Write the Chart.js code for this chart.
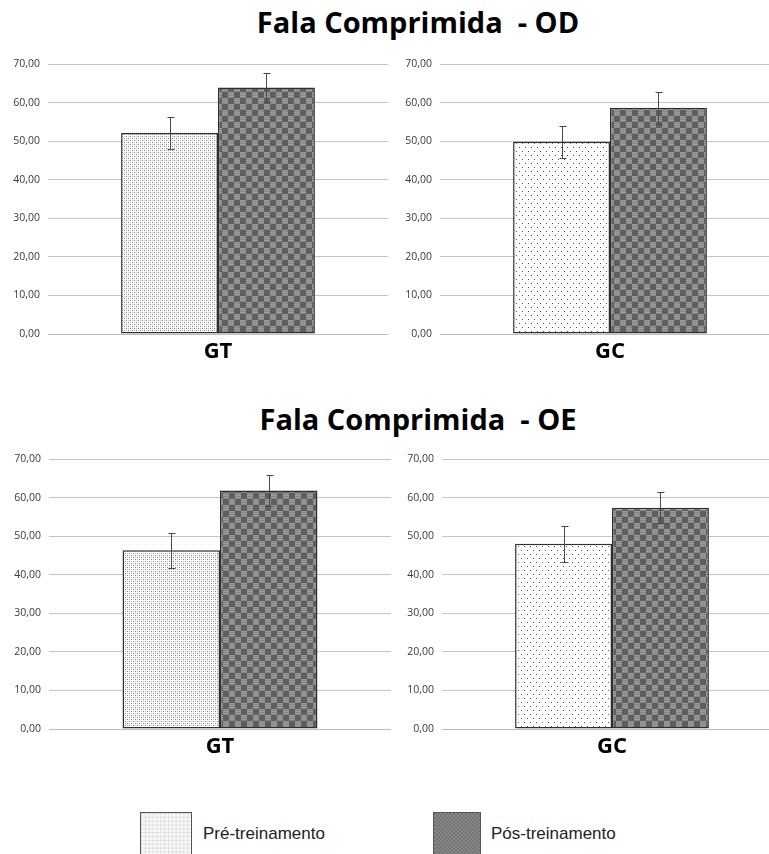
<!DOCTYPE html>
<html lang="pt">
<head>
<meta charset="utf-8">
<script src="https://cdn.jsdelivr.net/npm/chart.js@4.4.1/dist/chart.umd.min.js"></script>
<style>
  body { margin: 0; width: 769px; height: 854px; overflow: hidden; background: #fff; position: relative; }
  canvas { position: absolute; }
  .titulo { position: absolute; left: 168px; width: 500px; text-align: center; white-space: pre;
            font: bold 29px/29px 'Open Sans'; color: #000; }
  .leg-caixa { position: absolute; top: 812px; height: 50px; border: 1px solid #555; box-sizing: border-box; }
  .leg-texto { position: absolute; top: 824px; font: 17px/20px 'Liberation Sans'; color: #222; }
</style>
</head>
<body>
<div class="titulo" style="top:7px">Fala Comprimida  - OD</div>
<div class="titulo" style="top:404px">Fala Comprimida  - OE</div>

<canvas id="odGT" width="388" height="324" style="left:0px;top:50px"></canvas>
<canvas id="odGC" width="388" height="324" style="left:392px;top:50px"></canvas>
<canvas id="oeGT" width="390" height="324" style="left:1px;top:445px"></canvas>
<canvas id="oeGC" width="388" height="324" style="left:394px;top:445px"></canvas>

<canvas id="legPre" class="leg-caixa" width="52" height="50" style="left:140px"></canvas>
<div class="leg-texto" style="left:203px">Pré-treinamento</div>
<canvas id="legPos" class="leg-caixa" width="48" height="50" style="left:433px"></canvas>
<div class="leg-texto" style="left:491px">Pós-treinamento</div>

<script>
// dados (média e desvio)
const grupos = ['GT', 'GC'];
const series = ['Pré-treinamento', 'Pós-treinamento'];
const yTicks = [0, 10, 20, 30, 40, 50, 60, 70];

const odPre = [52.2, 49.9];
const odPos = [64.0, 58.7];
const odPreErro = [4.1, 4.2];
const odPosErro = [3.8, 4.1];

const oePre = [46.4, 48.1];
const oePos = [61.9, 57.4];
const oePreErro = [4.5, 4.7];
const oePosErro = [4.0, 4.0];

// texturas das barras
function padrao(w, h, desenha) {
    const c = document.createElement('canvas');
    c.width = w;
    c.height = h;
    const g = c.getContext('2d');
    desenha(g);
    return g.createPattern(c, 'repeat');
}

const pontosDensos = padrao(4, 4, g => {
    g.fillStyle = '#fff'; g.fillRect(0, 0, 4, 4);
    g.fillStyle = '#808080'; g.fillRect(0, 0, 1, 1); g.fillRect(2, 2, 1, 1);
    g.fillStyle = '#c0c0c0'; g.fillRect(2, 0, 1, 1); g.fillRect(0, 2, 1, 1);
});

const pontosEsparsos = padrao(6, 8, g => {
    g.fillStyle = '#fff'; g.fillRect(0, 0, 6, 8);
    g.fillStyle = '#555'; g.fillRect(1, 1, 1, 1); g.fillRect(4, 5, 1, 1);
});

const xadrez = padrao(12, 12, g => {
    g.fillStyle = '#858585'; g.fillRect(0, 0, 12, 12);
    g.fillStyle = '#5e5e5e'; g.fillRect(0, 0, 6, 6); g.fillRect(6, 6, 6, 6);
    g.fillStyle = '#9c9c9c';
    for (let r = 0; r < 6; r += 2) { g.fillRect(6, r, 6, 1); g.fillRect(0, 6 + r, 6, 1); }
});

// barras de erro
const barrasErro = {
    id: 'barrasErro',
    afterDatasetsDraw(chart) {
        const { ctx } = chart;
        const y = chart.scales.y;
        ctx.save();
        ctx.strokeStyle = '#4a4a4a';
        ctx.lineWidth = 1;
        chart.data.datasets.forEach((ds, i) => {
            chart.getDatasetMeta(i).data.forEach((bar, j) => {
                const v = ds.data[j], e = ds.erros[j];
                const x = Math.round(bar.x) + 0.5;
                const yTop = Math.round(y.getPixelForValue(v + e)) + 0.5;
                const yBot = Math.round(y.getPixelForValue(v - e)) + 0.5;
                ctx.beginPath();
                ctx.moveTo(x, yTop); ctx.lineTo(x, yBot);
                ctx.moveTo(x - 3, yTop); ctx.lineTo(x + 4, yTop);
                ctx.moveTo(x - 3, yBot); ctx.lineTo(x + 4, yBot);
                ctx.stroke();
            });
        });
        ctx.restore();
    }
};

function criaGrafico(id, grupo, pre, pos, preErro, posErro, fundoPre) {
    new Chart(document.getElementById(id), {
        type: 'bar',
        data: {
            labels: [grupo],
            datasets: [{
                label: series[0],
                data: [pre],
                erros: [preErro],
                backgroundColor: fundoPre,
                borderColor: '#2e2e2e',
                borderWidth: 1.5,
                borderSkipped: false,
                categoryPercentage: 0.57,
                barPercentage: 1
            }, {
                label: series[1],
                data: [pos],
                erros: [posErro],
                backgroundColor: xadrez,
                borderColor: '#2e2e2e',
                borderWidth: 1.5,
                borderSkipped: false,
                categoryPercentage: 0.57,
                barPercentage: 1
            }]
        },
        options: {
            responsive: false,
            animation: false,
            layout: { padding: { top: 11 } },
            plugins: {
                legend: { display: false },
                tooltip: { enabled: false }
            },
            scales: {
                x: {
                    grid: { display: false },
                    border: { color: '#bfbfbf' },
                    ticks: {
                        color: '#000',
                        padding: -3,
                        font: { family: 'Open Sans', weight: 'bold', size: 22 }
                    },
                    afterFit: s => { s.height = 40; }
                },
                y: {
                    min: 0,
                    max: 70,
                    afterBuildTicks: s => { s.ticks = yTicks.map(v => ({ value: v })); },
                    grid: { color: '#c4c4c4', drawTicks: false },
                    border: { display: false },
                    ticks: {
                        color: '#3a3a3a',
                        padding: 8,
                        font: { family: 'Open Sans', size: 10.5 },
                        callback: v => v.toFixed(2).replace('.', ',')
                    },
                    afterFit: s => { s.width = 48; }
                }
            }
        },
        plugins: [barrasErro]
    });
}

criaGrafico('odGT', grupos[0], odPre[0], odPos[0], odPreErro[0], odPosErro[0], pontosDensos);
criaGrafico('odGC', grupos[1], odPre[1], odPos[1], odPreErro[1], odPosErro[1], pontosEsparsos);
criaGrafico('oeGT', grupos[0], oePre[0], oePos[0], oePreErro[0], oePosErro[0], pontosDensos);
criaGrafico('oeGC', grupos[1], oePre[1], oePos[1], oePreErro[1], oePosErro[1], pontosEsparsos);

// amostras da legenda
function pintaAmostra(id, desenha) {
    const c = document.getElementById(id);
    const g = c.getContext('2d');
    desenha(g, c.width, c.height);
}

pintaAmostra('legPre', (g, w, h) => {
    g.fillStyle = '#fafafa'; g.fillRect(0, 0, w, h);
    g.fillStyle = '#e0e0e0';
    for (let p = 0; p < Math.max(w, h); p += 4) { g.fillRect(p, 0, 1, h); g.fillRect(0, p, w, 1); }
});

pintaAmostra('legPos', (g, w, h) => {
    g.fillStyle = '#8e8e8e'; g.fillRect(0, 0, w, h);
    g.fillStyle = '#6e6e6e';
    for (let a = 0; a < h; a += 2) {
        for (let b = (a / 2) % 2 * 2; b < w; b += 4) g.fillRect(b, a, 2, 2);
    }
});
</script>
</body>
</html>
